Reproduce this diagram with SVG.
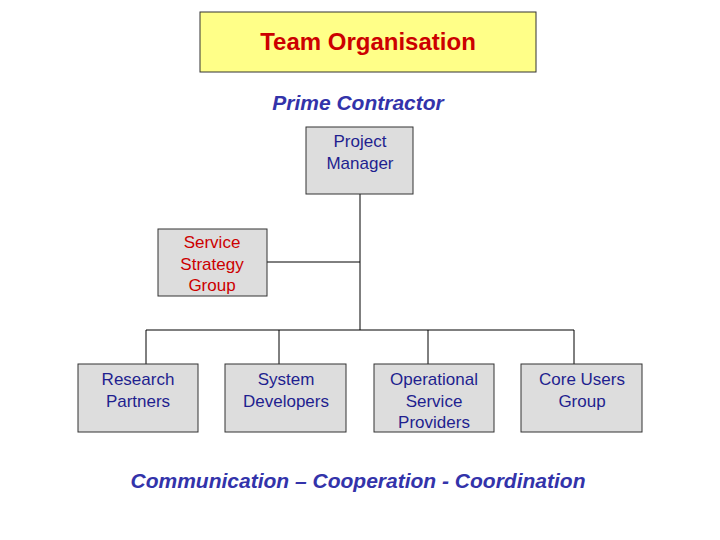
<svg xmlns="http://www.w3.org/2000/svg" width="720" height="540" viewBox="0 0 720 540">
<style>
.box{fill:#DDDDDD;stroke:#333;stroke-width:1}
.t{font-family:"Liberation Sans",Arial,sans-serif;font-size:17px;fill:#CC0000;text-anchor:middle}
.tb{font-family:"Liberation Sans",Arial,sans-serif;font-size:17px;fill:#1F1F8F;text-anchor:middle}
.blue{font-family:"Liberation Sans",Arial,sans-serif;font-weight:bold;font-style:italic;fill:#3333AA;text-anchor:middle}
</style>
<rect width="720" height="540" fill="#fff"/>
<g id="title"><rect x="200" y="12" width="336" height="60" fill="#FFFF88" stroke="#333"/>
<text x="368" y="50" class="t" style="font-size:24px;font-weight:bold">Team Organisation</text></g>
<text x="358" y="110" class="blue" font-size="21">Prime Contractor</text>
<g id="connectors" stroke="#000" stroke-width="1" fill="none">
<path d="M360 194V330M267 262H360M146 330H574M146 330V364M279 330V364M428 330V364M574 330V364"/>
</g>
<g id="pm"><rect class="box" x="306" y="127" width="107" height="67"/><text class="tb" x="360" y="147">Project</text><text class="tb" x="360" y="169">Manager</text></g>
<g id="ssg"><rect class="box" x="158" y="229" width="109" height="67"/><text class="t" x="212" y="248">Service</text><text class="t" x="212" y="270">Strategy</text><text class="t" x="212" y="291">Group</text></g>
<g id="rp"><rect class="box" x="78" y="364" width="120" height="68"/><text class="tb" x="138" y="385">Research</text><text class="tb" x="138" y="407">Partners</text></g>
<g id="sd"><rect class="box" x="225" y="364" width="121" height="68"/><text class="tb" x="286" y="385">System</text><text class="tb" x="286" y="407">Developers</text></g>
<g id="osp"><rect class="box" x="374" y="364" width="120" height="68"/><text class="tb" x="434" y="385">Operational</text><text class="tb" x="434" y="407">Service</text><text class="tb" x="434" y="428">Providers</text></g>
<g id="cug"><rect class="box" x="521" y="364" width="121" height="68"/><text class="tb" x="582" y="385">Core Users</text><text class="tb" x="582" y="407">Group</text></g>
<text x="358" y="488" class="blue" font-size="21">Communication – Cooperation - Coordination</text>
</svg>
